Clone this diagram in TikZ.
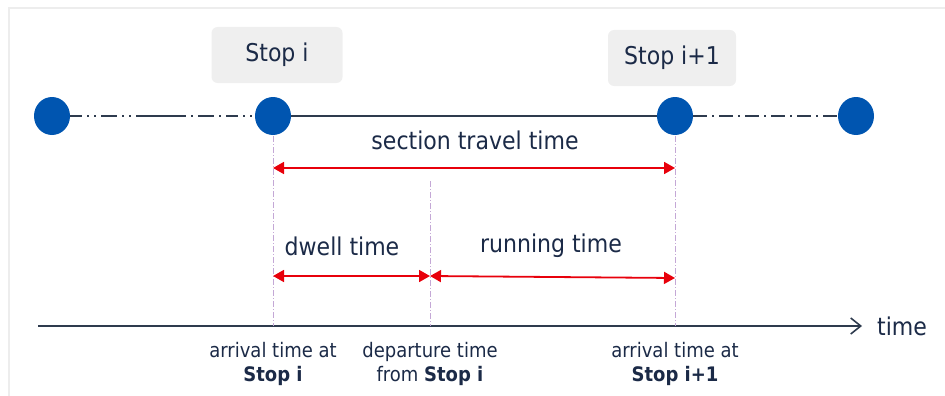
\documentclass[tikz,border=0pt]{standalone}
\usepackage{fontspec}
\setmainfont{DejaVu Sans Condensed}
\usetikzlibrary{arrows.meta,shapes.geometric}
\definecolor{txt}{HTML}{1B2A47}
\definecolor{stopblue}{HTML}{0055B0}
\definecolor{redarr}{HTML}{E8000B}
\definecolor{guide}{HTML}{C4A8D6}
\definecolor{track}{HTML}{2E3B4E}
\definecolor{boxgray}{HTML}{EFEFEF}
\definecolor{frame}{HTML}{EDEDED}
\tikzset{
  stopdot/.style={ellipse, minimum width=36pt, minimum height=38pt, inner sep=0pt, fill=stopblue, draw=none},
  stopbox/.style={rounded corners=6pt, fill=boxgray, draw=none, minimum width=131pt, minimum height=56pt, text=txt, font=\fontsize{24.5}{27}\selectfont},
  lbl/.style={text=txt, font=\fontsize{24.5}{27}\selectfont, inner sep=0pt},
  small/.style={text=txt, font=\fontsize{20}{24}\selectfont, align=center, inner sep=0pt},
  guideline/.style={guide, line width=1pt, dash pattern=on 6pt off 2pt on 1pt off 2pt},
  span/.style={redarr, line width=1.8pt, {Triangle[length=11pt,width=12pt]}-{Triangle[length=11pt,width=12pt]}},
  trackline/.style={track, line width=2pt},
}
\begin{document}
\begin{tikzpicture}[x=1pt,y=-1pt]
\useasboundingbox (0,0) rectangle (945,396);
% faint frame
\draw[frame, line width=2pt] (9,396) -- (9,8) -- (945,8);
% stop label boxes
\node[stopbox] (boxi) at (277,55) {Stop i};
\node[stopbox, minimum width=128pt] (boxj) at (672,58) {Stop i+1};
% stops
\node[stopdot] (s0) at (52,116) {};
\node[stopdot] (s1) at (273,116) {};
\node[stopdot] (s2) at (675,116) {};
\node[stopdot] (s3) at (856,116) {};
% track
\draw[trackline, dash pattern=on 12pt off 5pt on 2pt off 5pt on 2pt off 5pt on 16pt off 5pt on 2pt off 5pt on 2pt off 5pt on 50pt off 5pt on 2pt off 5pt on 16pt off 5pt on 2pt off 5pt] (s0.east) -- (s1.west);
\draw[trackline] (s1.east) -- (s2.west);
\draw[trackline, dash pattern=on 14pt off 5pt on 2pt off 5pt] (s2.east) -- (s3.west);
% time axis
\coordinate (ax0) at (38,326);
\coordinate (ax1) at (862,326);
\draw[track, line width=1.6pt, -{Straight Barb[length=10pt,width=16pt,line width=1.6pt]}] (ax0) -- (ax1);
\node[lbl, anchor=west] (timelbl) at (877,326) {time};
% guide lines
\coordinate (g1t) at (273,136);
\coordinate (g1b) at (273,326);
\coordinate (g2t) at (430,181);
\coordinate (g2b) at (430,326);
\coordinate (g3t) at (675,136);
\coordinate (g3b) at (675,326);
\draw[guideline] (g1t) -- (g1b);
\draw[guideline] (g2t) -- (g2b);
\draw[guideline] (g3t) -- (g3b);
% spans
\coordinate (a1) at (273,168);
\coordinate (a2) at (675,168);
\draw[span] (a1) -- (a2);
\node[lbl] (stt) at (475,140) {section travel time};
\coordinate (d1) at (273,276);
\coordinate (d2) at (430,276);
\coordinate (r2) at (675,278);
\draw[span] (d1) -- (d2);
\draw[span] (d2) -- (r2);
\node[lbl] (dw) at (342,246) {dwell time};
\node[lbl] (rt) at (551,246) {running time};
% bottom labels
\node[small] (l1) at (273,364) {arrival time at\\\textbf{Stop i}};
\node[small] (l2) at (430,364) {departure time\\from \textbf{Stop i}};
\node[small] (l3) at (675,364) {arrival time at\\\textbf{Stop i+1}};
\end{tikzpicture}
\end{document}
